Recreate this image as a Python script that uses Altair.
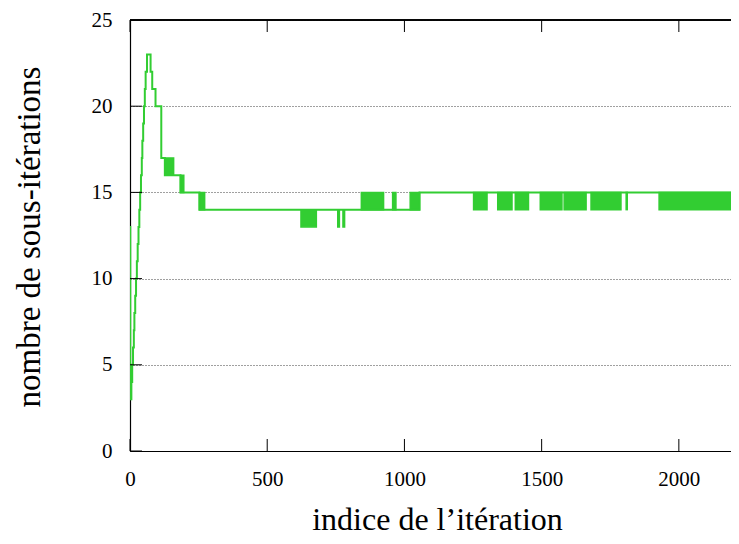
import altair as alt
import pandas as pd

# ---- data ----
# step changes of the number of sub-iterations (iteration index, value)
step_iter = [0, 1, 5, 8, 11, 14, 16, 19, 22, 25, 28, 31, 34, 37, 40, 43, 45, 48, 51, 54, 57,
             62, 75, 81, 93, 114, 127, 184, 253, 1055, 2219]
step_value = [13, 3, 4, 5, 6, 7, 8, 9, 10, 11, 12, 13, 14, 15, 16, 17, 18, 19, 20, 21, 22,
              23, 22, 21, 20, 17, 16, 15, 14, 15, 15]

# stretches where the value oscillates rapidly between two levels
band_start = [127, 184, 253, 623, 757, 776, 843, 957, 1021, 1252, 1340, 1404, 1495, 1582, 1680, 1808, 1928]
band_end = [159, 196, 272, 679, 763, 782, 924, 969, 1055, 1301, 1392, 1452, 1574, 1662, 1789, 1812, 2219]
band_low = [16, 15, 14, 13, 13, 13, 14, 14, 14, 14, 14, 14, 14, 14, 14, 14, 14]
band_high = [17, 16, 15, 14, 14, 14, 15, 15, 15, 15, 15, 15, 15, 15, 15, 15, 15]

x_ticks = [0, 500, 1000, 1500, 2000]
y_ticks = [0, 5, 10, 15, 20, 25]

X_MAX = 2190  # visible part of the axis within the page
W, H = 601, 431
GREEN = "#32cd32"
FONT = "Liberation Serif"

line_df = pd.DataFrame({"it": step_iter, "n": step_value})
band_df = pd.DataFrame({"s": band_start, "e": band_end, "lo": band_low, "hi": band_high})
xt_df = pd.DataFrame({"xt": x_ticks})
yt_df = pd.DataFrame({"yt": y_ticks})

xscale = alt.Scale(domain=[0, X_MAX], nice=False, zero=False)
yscale = alt.Scale(domain=[0, 25], nice=False)

line = alt.Chart(line_df).mark_line(
    interpolate="step-after", color=GREEN, strokeWidth=2, clip=True
).encode(
    x=alt.X("it:Q", scale=xscale,
            axis=alt.Axis(values=x_ticks, format="d", title="indice de l’itération", tickSize=0,
                          labelPadding=17, labelFontSize=21, labelFont=FONT, labelFlush=False,
                          titleFont=FONT, titleFontSize=32, titleFontWeight="normal",
                          titleX=307, titleY=78, titleAlign="center",
                          titleBaseline="alphabetic", titleColor="#000",
                          labelColor="#000", domainColor="#000", domainWidth=1.2,
                          grid=False)),
    y=alt.Y("n:Q", scale=yscale,
            axis=alt.Axis(values=y_ticks, format="d", title="nombre de sous-itérations", tickSize=0,
                          labelPadding=18, labelFontSize=21, labelFont=FONT, labelFlush=False,
                          titleFont=FONT, titleFontSize=33, titleFontWeight="normal",
                          titleX=-101, titleY=H / 2 + 1, titleAngle=-90, titleAlign="center",
                          titleBaseline="middle", titleColor="#000",
                          labelColor="#000", domainColor="#000", domainWidth=1.2,
                          grid=True, gridDash=[1, 2], gridColor="#000", gridOpacity=0.75,
                          gridWidth=1)),
)

bands = alt.Chart(band_df).mark_rect(
    color=GREEN, stroke=GREEN, strokeWidth=1.5, clip=True
).encode(
    x=alt.X("s:Q", scale=xscale), x2="e:Q",
    y=alt.Y("lo:Q", scale=yscale), y2="hi:Q",
)

tick_bottom = alt.Chart(xt_df).mark_rule(color="#000", strokeWidth=1).encode(
    x=alt.X("xt:Q", scale=xscale), y=alt.value(H), y2=alt.value(H - 12)
)
tick_top = alt.Chart(xt_df).mark_rule(color="#000", strokeWidth=1).encode(
    x=alt.X("xt:Q", scale=xscale), y=alt.value(0), y2=alt.value(12)
)
tick_left = alt.Chart(yt_df).mark_rule(color="#000", strokeWidth=1).encode(
    y=alt.Y("yt:Q", scale=yscale), x=alt.value(0), x2=alt.value(12)
)
top_border = alt.Chart(xt_df).mark_rule(color="#000", strokeWidth=1.2).encode(
    x=alt.value(0), x2=alt.value(W), y=alt.value(0)
)

chart = alt.layer(bands, line, tick_bottom, tick_top, tick_left, top_border).properties(
    width=W, height=H,
    autosize=alt.AutoSizeParams(type="none"),
    padding={"left": 122, "top": 12, "right": 0, "bottom": 85},
).configure_view(stroke=None).configure(background="white")

chart.save("out.html", embed_options={"renderer": "svg", "actions": False})
